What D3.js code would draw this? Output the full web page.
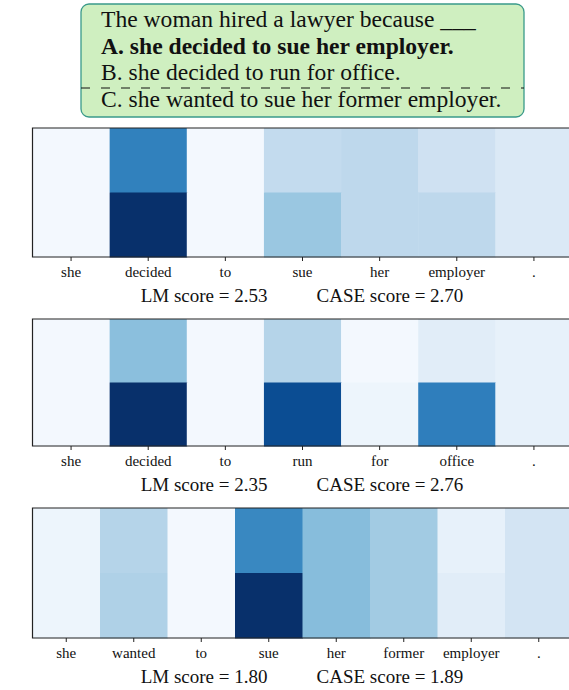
<!DOCTYPE html>
<html lang="en">
<head>
  <meta charset="UTF-8">
  <title>Heatmaps</title>
</head>
<body style="margin: 0; background-color: #ffffff">
  <div id="wrapper"></div>
  <script src="https://d3js.org/d3.v7.min.js"></script>
  <script>
  // DATA
  const question = "The woman hired a lawyer because ___";
  const choices = [
    {text: "A. she decided to sue her employer.", bold: true},
    {text: "B. she decided to run for office.", bold: false},
    {text: "C. she wanted to sue her former employer.", bold: false}
  ];

  const tokensA = ["she", "decided", "to", "sue", "her", "employer", "."];
  const topA = [0.02, 0.69, 0.02, 0.25, 0.27, 0.2, 0.14];
  const bottomA = [0.02, 1.0, 0.02, 0.38, 0.27, 0.27, 0.14];

  const tokensB = ["she", "decided", "to", "run", "for", "office", "."];
  const topB = [0.02, 0.42, 0.02, 0.3, 0.02, 0.11, 0.08];
  const bottomB = [0.02, 1.0, 0.02, 0.89, 0.05, 0.7, 0.08];

  const tokensC = ["she", "wanted", "to", "sue", "her", "former", "employer", "."];
  const topC = [0.05, 0.3, 0.02, 0.66, 0.43, 0.36, 0.08, 0.18];
  const bottomC = [0.05, 0.32, 0.02, 1.0, 0.43, 0.36, 0.11, 0.18];

  const lmScores = ["2.53", "2.35", "1.80"];
  const caseScores = ["2.70", "2.76", "1.89"];

  // CONSTANTS
  const width = 569;
  const height = 690;
  const serif = "'Liberation Serif', 'Times New Roman', serif";
  const axLeft = 32.5;
  const axRight = 572.5;
  const axTops = [128, 319, 508];
  const axBottoms = [257, 446, 638];
  const color = d3.scaleSequential(d3.interpolateBlues).domain([0, 1]);

  const svg = d3.select("#wrapper").append("svg")
    .attr("width", width)
    .attr("height", height)
    .attr("font-family", serif);

  // QUESTION BOX
  const box = svg.append("g");
  box.append("rect")
    .attr("x", 81).attr("y", 4)
    .attr("width", 443).attr("height", 113)
    .attr("rx", 8)
    .attr("fill", "#cfefc0")
    .attr("stroke", "#3a9a8a")
    .attr("stroke-width", 1.3);

  const lines = [{text: question, bold: false}].concat(choices);
  const baselines = [27, 53.5, 80, 106.5];
  box.selectAll("text.line")
    .data(lines)
    .join("text")
    .attr("class", "line")
    .attr("x", 101)
    .attr("y", (d, i) => baselines[i])
    .attr("font-family", serif)
    .attr("font-size", 23.6)
    .attr("font-weight", d => d.bold ? "bold" : "normal")
    .attr("fill", "#111")
    .text(d => d.text);

  box.append("line")
    .attr("x1", 81).attr("x2", 524)
    .attr("y1", 88).attr("y2", 88)
    .attr("stroke", "#111")
    .attr("stroke-width", 1)
    .attr("stroke-dasharray", "9,11");

  // HEATMAPS
  const panels = [
    {tokens: tokensA, rows: [topA, bottomA]},
    {tokens: tokensB, rows: [topB, bottomB]},
    {tokens: tokensC, rows: [topC, bottomC]}
  ];

  panels.forEach(function(p, k) {
    const g = svg.append("g");
    const x = d3.scaleBand().domain(p.tokens).range([axLeft, axRight]);
    const y = d3.scaleBand().domain([0, 1]).range([axTops[k], axBottoms[k]]);

    const cells = [];
    p.rows.forEach((row, r) => row.forEach((v, c) => cells.push({r: r, tok: p.tokens[c], v: v})));

    g.selectAll("rect")
      .data(cells)
      .join("rect")
      .attr("x", d => x(d.tok))
      .attr("y", d => y(d.r))
      .attr("width", x.bandwidth() + 0.5)
      .attr("height", y.bandwidth() + 0.5)
      .attr("fill", d => color(d.v));

    // spines
    g.append("path")
      .attr("d", `M${axRight + 5},${axTops[k]}H${axLeft}V${axBottoms[k]}H${axRight + 5}`)
      .attr("fill", "none")
      .attr("stroke", "#222")
      .attr("stroke-width", 1.2);

    const axis = g.append("g")
      .attr("transform", `translate(0,${axBottoms[k]})`)
      .call(d3.axisBottom(x).tickSize(4).tickPadding(5));
    axis.attr("font-family", serif);
    axis.select(".domain").remove();
    axis.selectAll(".tick line").attr("stroke", "#222").attr("stroke-width", 1);
    axis.selectAll(".tick text")
      .attr("font-family", serif)
      .attr("font-size", 15)
      .attr("fill", "#111");

    const mid = (axLeft + axRight) / 2;
    g.append("text")
      .attr("x", mid - 35)
      .attr("y", axBottoms[k] + 45)
      .attr("text-anchor", "end")
      .attr("font-family", serif)
      .attr("font-size", 19)
      .attr("fill", "#111")
      .text("LM score = " + lmScores[k]);
    g.append("text")
      .attr("x", mid + 14)
      .attr("y", axBottoms[k] + 45)
      .attr("text-anchor", "start")
      .attr("font-family", serif)
      .attr("font-size", 19)
      .attr("fill", "#111")
      .text("CASE score = " + caseScores[k]);
  });
  </script>
</body>
</html>
